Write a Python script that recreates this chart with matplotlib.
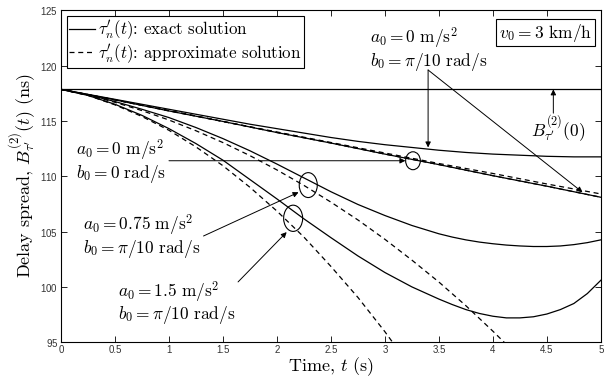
import matplotlib
matplotlib.use('Agg')
import matplotlib.pyplot as plt
from matplotlib.patches import Ellipse

plt.rcParams['mathtext.fontset'] = 'cm'
plt.rcParams['axes.formatter.use_mathtext'] = True

# time grids (s)
t_coarse = [0, 0.5, 1.0, 1.5, 2.0, 2.5, 3.0, 3.5, 4.0, 4.5, 5.0]
t_fine = [0, 0.25, 0.5, 0.75, 1.0, 1.25, 1.5, 1.75, 2.0, 2.25, 2.5, 2.75,
          3.0, 3.25, 3.5, 3.75, 4.0, 4.25, 4.5, 4.75, 5.0]
t_exact = [0, 0.25, 0.5, 0.75, 1.0, 1.25, 1.5, 1.75, 2.0, 2.25, 2.5, 2.75, 3.0, 3.25, 3.5,
           3.625, 3.75, 3.875, 4.0, 4.125, 4.25, 4.375, 4.5, 4.625, 4.75, 4.875, 5.0]

# initial delay spread B(0) in ns
b_init = 117.85

# a0 = 0, b0 = 0 (exact and approximate coincide)
exact_a0_b0 = [117.85, 116.9, 115.9, 114.95, 113.95, 113.0, 112.0, 111.05, 110.05, 109.1, 108.1]
approx_a0_b0 = [117.85, 116.9, 115.9, 114.95, 113.95, 113.0, 112.0, 111.05, 110.05, 109.1, 108.1]

# a0 = 0, b0 = pi/10
exact_a0_bpi = [117.85, 117.4, 116.95, 116.5, 116.05, 115.6, 115.15, 114.7, 114.3, 113.9, 113.5,
                113.15, 112.85, 112.6, 112.35, 112.15, 112.0, 111.9, 111.8, 111.75, 111.75]
approx_a0_bpi = [117.85, 116.9, 115.95, 114.95, 114.0, 113.05, 112.1, 111.15, 110.25, 109.3, 108.4]

# a0 = 0.75, b0 = pi/10
exact_a075 = [117.85, 117.35, 116.75, 116.05, 115.3, 114.4, 113.4, 112.3, 111.1, 109.85, 108.6,
              107.45, 106.45, 105.55, 104.8, 104.5, 104.25, 104.05, 103.9, 103.78, 103.7,
              103.65, 103.65, 103.7, 103.82, 104.0, 104.25]
t_approx_a075 = [0, 0.25, 0.5, 0.75, 1.0, 1.25, 1.5, 1.75, 2.0, 2.25, 2.5, 2.75,
                 3.0, 3.25, 3.5, 3.75, 4.0, 4.25]
approx_a075 = [117.85, 117.33, 116.68, 115.93, 115.08, 114.11, 113.04, 111.86, 110.57, 109.17,
               107.66, 106.05, 104.3, 102.42, 100.44, 98.3, 96.0, 93.6]

# a0 = 1.5, b0 = pi/10
exact_a15 = [117.85, 117.3, 116.5, 115.5, 114.3, 112.95, 111.45, 109.7, 107.95, 106.15, 104.45,
             102.8, 101.3, 100.0, 98.9, 98.4, 97.95, 97.6, 97.35, 97.2, 97.2, 97.3, 97.55,
             97.95, 98.5, 99.4, 100.6]
t_approx_a15 = [0, 0.25, 0.5, 0.75, 1.0, 1.25, 1.5, 1.75, 2.0, 2.25, 2.5, 2.75, 3.0, 3.25]
approx_a15 = [117.85, 117.3, 116.45, 115.4, 114.15, 112.65, 110.95, 109.0, 106.85, 104.5,
              101.85, 99.05, 95.95, 92.6]

x_ticks = [0, 0.5, 1, 1.5, 2, 2.5, 3, 3.5, 4, 4.5, 5]
x_tick_labels = ['0', '0.5', '1', '1.5', '2', '2.5', '3', '3.5', '4', '4.5', '5']
y_ticks = [95, 100, 105, 110, 115, 120, 125]

fig = plt.figure(figsize=(6.1, 3.79), dpi=100)
ax = fig.add_axes([0.1, 0.097, 0.885, 0.876])

lw = 0.9
dash = (4, 3)
ax.axhline(b_init, color='k', lw=lw)
ax.plot(t_coarse, exact_a0_b0, 'k-', lw=lw, label=r"$\tau_n^{\prime}(t)$: exact solution")
ax.plot(t_coarse, approx_a0_b0, 'k--', lw=lw, dashes=dash, label=r"$\tau_n^{\prime}(t)$: approximate solution")
ax.plot(t_fine, exact_a0_bpi, 'k-', lw=lw)
ax.plot(t_coarse, approx_a0_bpi, 'k--', lw=lw, dashes=dash)
ax.plot(t_exact, exact_a075, 'k-', lw=lw)
ax.plot(t_approx_a075, approx_a075, 'k--', lw=lw, dashes=dash)
ax.plot(t_exact, exact_a15, 'k-', lw=lw)
ax.plot(t_approx_a15, approx_a15, 'k--', lw=lw, dashes=dash)

ax.set_xlim(0, 5)
ax.set_ylim(95, 125)
ax.set_xticks(x_ticks)
ax.set_xticklabels(x_tick_labels)
ax.set_yticks(y_ticks)
ax.tick_params(direction='in', top=True, right=True, length=4, width=0.6,
               labelsize=7, pad=2)
for lab in ax.get_xticklabels() + ax.get_yticklabels():
    lab.set_fontfamily('Liberation Sans')
    lab.set_color('#333333')
for sp in ax.spines.values():
    sp.set_linewidth(0.8)

cm = 'cmr10'
ax.set_xlabel(r"Time, $t$ (s)", fontfamily=cm, fontsize=13, labelpad=0)
ax.set_ylabel(r"Delay spread, $B_{\tau^{\prime}}^{(2)}(t)$ (ns)", fontfamily=cm, fontsize=13, labelpad=2)

leg = ax.legend(loc='upper left', handlelength=1.5, handletextpad=0.2,
                borderaxespad=0.35, borderpad=0.15, labelspacing=0.05,
                fancybox=False, edgecolor='k', framealpha=1,
                prop={'family': cm, 'size': 12.2})
leg.get_frame().set_linewidth(0.8)

ax.text(0.984, 0.966, r"$v_0 = 3$ km/h", transform=ax.transAxes, ha='right', va='top',
        fontfamily=cm, fontsize=12.5,
        bbox=dict(boxstyle='square,pad=0.15', fc='white', ec='k', lw=0.8))

arrow = dict(arrowstyle='-|>', color='k', lw=0.7, mutation_scale=8, shrinkA=0, shrinkB=0)
fs = 12.5

# labels for each trajectory (two lines each)
ax.text(2.86, 121.45, "$a_0 = 0\\ \\mathrm{m/s}^2$\n$b_0 = \\pi/10\\ \\mathrm{rad/s}$",
        fontsize=fs, va='center', linespacing=1.0)
ax.annotate('', xy=(3.4, 112.6), xytext=(3.4, 119.6), arrowprops=arrow)
ax.annotate('', xy=(4.83, 108.55), xytext=(3.4, 119.6), arrowprops=arrow)

ax.text(0.14, 111.35, "$a_0 = 0\\ \\mathrm{m/s}^2$\n$b_0 = 0\\ \\mathrm{rad/s}$",
        fontsize=fs, va='center', linespacing=1.0)
ax.annotate('', xy=(3.19, 111.4), xytext=(1.0, 111.4), arrowprops=arrow)

ax.text(0.2, 104.6, "$a_0 = 0.75\\ \\mathrm{m/s}^2$\n$b_0 = \\pi/10\\ \\mathrm{rad/s}$",
        fontsize=fs, va='center', linespacing=1.0)
ax.annotate('', xy=(2.2, 108.55), xytext=(1.32, 104.6), arrowprops=arrow)

ax.text(0.53, 98.55, "$a_0 = 1.5\\ \\mathrm{m/s}^2$\n$b_0 = \\pi/10\\ \\mathrm{rad/s}$",
        fontsize=fs, va='center', linespacing=0.93)
ax.annotate('', xy=(2.09, 104.95), xytext=(1.64, 100.45), arrowprops=arrow)

ax.text(4.6, 114.3, r"$B_{\tau^{\prime}}^{(2)}(0)$", fontsize=fs, ha='center', va='center')
ax.annotate('', xy=(4.56, b_init), xytext=(4.56, 115.7), arrowprops=arrow)

# circles marking the compared curves
for cx, cy, w, h in [(3.26, 111.4, 0.136, 1.62), (2.29, 109.2, 0.167, 2.25), (2.15, 106.2, 0.176, 2.37)]:
    ax.add_patch(Ellipse((cx, cy), w, h, fill=False, ec='k', lw=0.8))

fig.savefig('out.png', dpi=100)
